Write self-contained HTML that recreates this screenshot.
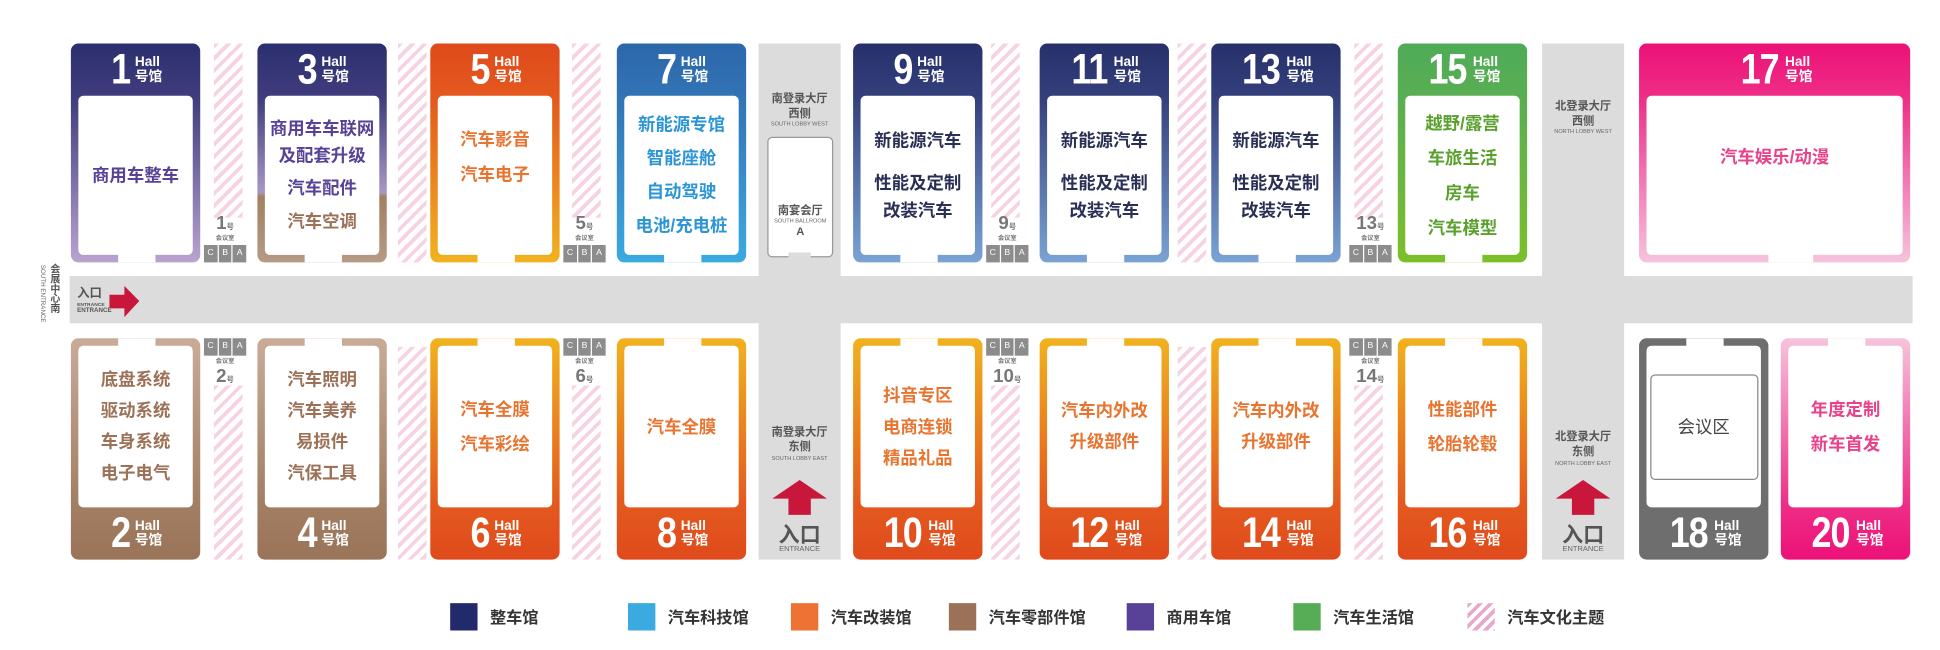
<!DOCTYPE html>
<html><head><meta charset="utf-8"><style>
*{margin:0;padding:0;box-sizing:border-box}
body{width:1940px;height:650px;background:#fff;overflow:hidden;font-family:"Liberation Sans","Noto Sans CJK SC",sans-serif}
#w{position:absolute;left:0;top:0;width:1560px;height:523px;transform:scale(1.24359);transform-origin:0 0}
.a{position:absolute}
.hall{position:absolute;width:104px;border-radius:6px;overflow:hidden}
.top{top:35px;height:176px}
.bot{top:272px;height:178px}
.in{position:absolute;left:6px;right:6px;background:#fff;border-radius:4px;display:flex;flex-direction:column;justify-content:center;align-items:center;font-size:14px;font-weight:bold;line-height:25px;text-align:center}
.top .in{top:42px;bottom:6px}
.bot .in{top:6px;bottom:42px}
.gap{position:absolute;left:38px;width:30px;height:7px;background:#fff}
.top .gap{bottom:0}.bot .gap{top:0}
.hd{position:absolute;left:0;right:0;height:42px;display:flex;justify-content:center;align-items:center;color:#fff}
.top .hd{top:0}.bot .hd{bottom:0}
.n{font-family:"Liberation Sans Narrow","Liberation Sans",sans-serif;font-size:34px;font-weight:bold;letter-spacing:-1px;margin-right:3px;transform:scaleX(.85)}
.s{font-size:11px;font-weight:bold;line-height:12px;display:flex;flex-direction:column}
.hat{position:absolute;width:23px;background:repeating-linear-gradient(135deg,#f6d2e2 0 3px,#fff 3px 7px)}
.cba{position:absolute;width:34px;height:14px;display:flex;gap:1px}
.cba span{flex:1;background:#8c8c8c;color:#fff;font-size:7px;text-align:center;line-height:14px}
.mr{position:absolute;width:34px;text-align:center;color:#777;font-weight:bold}
.mr b{font-size:15px;font-family:"Liberation Sans Narrow","Liberation Sans",sans-serif}
.mr i{font-style:normal;font-size:6px}
.mr div{font-size:5px;line-height:6px}
.lob{position:absolute;background:#dcdcdc;width:66px;top:35px;height:415px;text-align:center;color:#555}
.lt{font-size:9px;font-weight:bold;line-height:12px}
.le{font-size:4.5px;color:#666}
.lg{position:absolute;top:485px;width:22px;height:22px}
.ll{position:absolute;top:486px;font-size:13px;color:#333;font-weight:bold}
.nv{color:#2a2f55;line-height:22px}
</style></head><body><div id="w">

<div class="a" style="left:56px;top:222px;width:1482px;height:38px;background:#dcdcdc"></div>
<div class="a" style="left:40px;top:212px;writing-mode:vertical-rl;font-size:8px;font-weight:bold;color:#555;line-height:9px">会展中心南</div>
<div class="a" style="left:31px;top:213px;writing-mode:vertical-rl;font-size:5px;color:#666;line-height:6px">SOUTH ENTRANCE</div>
<div class="a" style="left:62px;top:232px;font-size:10px;font-weight:bold;color:#555;line-height:10px">入口<div style="font-size:4px;line-height:5px">ENTRANCE</div><div style="font-size:5px;line-height:6px">ENTRANCE</div></div>
<svg class="a" style="left:86px;top:229px" width="28" height="28"><polygon points="2,8 14,8 14,1 26,13 14,26 14,19 2,19" fill="#c8173a"/></svg>

<div class="lob" style="left:610px">
 <div class="lt" style="margin-top:38px">南登录大厅<br>西侧</div><div class="le">SOUTH LOBBY WEST</div>
 <div class="a" style="left:7px;top:75px;width:53px;height:97px;border:1.5px solid #999;border-radius:4px;background:#fff"><div class="lt" style="margin-top:52px">南宴会厅</div><div class="le">SOUTH BALLROOM</div><div class="lt">A</div></div>
 <div class="a" style="left:24px;top:168px;width:18px;height:6px;background:#dcdcdc"></div>
 <div class="lt" style="position:absolute;top:306px;width:66px">南登录大厅<br>东侧</div><div class="le" style="position:absolute;top:331px;width:66px">SOUTH LOBBY EAST</div>
 <svg class="a" style="left:10px;top:350px" width="46" height="30"><polygon points="23,1 45,16 32,16 32,29 14,29 14,16 1,16" fill="#c8173a"/></svg>
 <div style="position:absolute;top:381px;width:66px;font-size:17px;font-weight:bold;color:#555">入口</div><div class="le" style="position:absolute;top:404px;width:66px;font-size:6px">ENTRANCE</div>
</div>
<div class="lob" style="left:1240px">
 <div class="lt" style="margin-top:44px">北登录大厅<br>西侧</div><div class="le">NORTH LOBBY WEST</div>
 <div class="lt" style="position:absolute;top:310px;width:66px">北登录大厅<br>东侧</div><div class="le" style="position:absolute;top:335px;width:66px">NORTH LOBBY EAST</div>
 <svg class="a" style="left:10px;top:350px" width="46" height="30"><polygon points="23,1 45,16 32,16 32,29 14,29 14,16 1,16" fill="#c8173a"/></svg>
 <div style="position:absolute;top:381px;width:66px;font-size:17px;font-weight:bold;color:#555">入口</div><div class="le" style="position:absolute;top:404px;width:66px;font-size:6px">ENTRANCE</div>
</div>

<div class="hat" style="left:172px;top:35px;height:140px"></div>
<div class="hat" style="left:320px;top:35px;height:176px"></div>
<div class="hat" style="left:460px;top:35px;height:140px"></div>
<div class="hat" style="left:797px;top:35px;height:140px"></div>
<div class="hat" style="left:947px;top:35px;height:176px"></div>
<div class="hat" style="left:1089px;top:35px;height:140px"></div>
<div class="hat" style="left:172px;top:310px;height:140px"></div>
<div class="hat" style="left:320px;top:279px;height:171px"></div>
<div class="hat" style="left:460px;top:310px;height:140px"></div>
<div class="hat" style="left:797px;top:310px;height:140px"></div>
<div class="hat" style="left:947px;top:279px;height:171px"></div>
<div class="hat" style="left:1089px;top:310px;height:140px"></div>

<div class="mr" style="left:164px;top:171px"><b>1</b><i>号</i><div>会议室</div></div>
<div class="cba" style="left:164px;top:197px"><span>C</span><span>B</span><span>A</span></div>
<div class="mr" style="left:453px;top:171px"><b>5</b><i>号</i><div>会议室</div></div>
<div class="cba" style="left:453px;top:197px"><span>C</span><span>B</span><span>A</span></div>
<div class="mr" style="left:793px;top:171px"><b>9</b><i>号</i><div>会议室</div></div>
<div class="cba" style="left:793px;top:197px"><span>C</span><span>B</span><span>A</span></div>
<div class="mr" style="left:1085px;top:171px"><b>13</b><i>号</i><div>会议室</div></div>
<div class="cba" style="left:1085px;top:197px"><span>C</span><span>B</span><span>A</span></div>
<div class="cba" style="left:164px;top:272px"><span>C</span><span>B</span><span>A</span></div>
<div class="mr" style="left:164px;top:288px"><div>会议室</div><b>2</b><i>号</i></div>
<div class="cba" style="left:453px;top:272px"><span>C</span><span>B</span><span>A</span></div>
<div class="mr" style="left:453px;top:288px"><div>会议室</div><b>6</b><i>号</i></div>
<div class="cba" style="left:793px;top:272px"><span>C</span><span>B</span><span>A</span></div>
<div class="mr" style="left:793px;top:288px"><div>会议室</div><b>10</b><i>号</i></div>
<div class="cba" style="left:1085px;top:272px"><span>C</span><span>B</span><span>A</span></div>
<div class="mr" style="left:1085px;top:288px"><div>会议室</div><b>14</b><i>号</i></div>

<div class="hall top" style="left:57px;background:linear-gradient(180deg,#2b2f6e 0,#403d7e 25%,#b9a3cf 100%)"><div class="hd"><span class="n">1</span><span class="s"><span>Hall</span><span>号馆</span></span></div><div class="in" style="color:#574297">商用车整车</div><div class="gap"></div></div>
<div class="hall top" style="left:207px;background:linear-gradient(180deg,#2b2f6e 0,#403d7e 25%,#a896c6 68%,#a3805f 70%,#b59a87 100%)"><div class="hd"><span class="n">3</span><span class="s"><span>Hall</span><span>号馆</span></span></div><div class="in" style="color:#574297"><div style="line-height:22px">商用车车联网<br>及配套升级</div><div style="line-height:30px">汽车配件</div><div style="color:#9b7157">汽车空调</div></div><div class="gap"></div></div>
<div class="hall top" style="left:346px;background:linear-gradient(180deg,#df4a1c 0,#e4591e 25%,#f1b21f 100%)"><div class="hd"><span class="n">5</span><span class="s"><span>Hall</span><span>号馆</span></span></div><div class="in" style="color:#e8742f;line-height:28px;padding-bottom:30px">汽车影音<br>汽车电子</div><div class="gap"></div></div>
<div class="hall top" style="left:496px;background:linear-gradient(180deg,#2c67ab 0,#3274b6 25%,#3aaae0 100%)"><div class="hd"><span class="n">7</span><span class="s"><span>Hall</span><span>号馆</span></span></div><div class="in" style="color:#2b95d6;line-height:27px">新能源专馆<br>智能座舱<br>自动驾驶<br>电池/充电桩</div><div class="gap"></div></div>
<div class="hall top" style="left:686px;background:linear-gradient(180deg,#27306b 0,#34407c 25%,#7aa3d4 100%)"><div class="hd"><span class="n">9</span><span class="s"><span>Hall</span><span>号馆</span></span></div><div class="in nv"><div style="margin-bottom:12px">新能源汽车</div><div>性能及定制</div><div>改装汽车</div></div><div class="gap"></div></div>
<div class="hall top" style="left:836px;background:linear-gradient(180deg,#27306b 0,#34407c 25%,#7aa3d4 100%)"><div class="hd"><span class="n">11</span><span class="s"><span>Hall</span><span>号馆</span></span></div><div class="in nv"><div style="margin-bottom:12px">新能源汽车</div><div>性能及定制</div><div>改装汽车</div></div><div class="gap"></div></div>
<div class="hall top" style="left:974px;background:linear-gradient(180deg,#27306b 0,#34407c 25%,#7aa3d4 100%)"><div class="hd"><span class="n">13</span><span class="s"><span>Hall</span><span>号馆</span></span></div><div class="in nv"><div style="margin-bottom:12px">新能源汽车</div><div>性能及定制</div><div>改装汽车</div></div><div class="gap"></div></div>
<div class="hall top" style="left:1124px;background:linear-gradient(180deg,#4fab58 0,#5aae52 25%,#7cbf2b 100%)"><div class="hd"><span class="n">15</span><span class="s"><span>Hall</span><span>号馆</span></span></div><div class="in" style="color:#5aa02c;line-height:28px">越野/露营<br>车旅生活<br>房车<br>汽车模型</div><div class="gap"></div></div>
<div class="hall top" style="left:1318px;width:218px;background:linear-gradient(180deg,#ec1177 0,#ee2e87 25%,#f6c3dc 100%)"><div class="hd"><span class="n">17</span><span class="s"><span>Hall</span><span>号馆</span></span></div><div class="in" style="color:#e8428a;padding-bottom:30px">汽车娱乐/动漫</div><div class="gap" style="left:104px;width:36px"></div></div>

<div class="hall bot" style="left:57px;background:linear-gradient(0deg,#9a7458 0,#a27e62 25%,#c9ab98 100%)"><div class="in" style="color:#9b7157">底盘系统<br>驱动系统<br>车身系统<br>电子电气</div><div class="hd"><span class="n">2</span><span class="s"><span>Hall</span><span>号馆</span></span></div><div class="gap"></div></div>
<div class="hall bot" style="left:207px;background:linear-gradient(0deg,#9a7458 0,#a27e62 25%,#c9ab98 100%)"><div class="in" style="color:#9b7157">汽车照明<br>汽车美养<br>易损件<br>汽保工具</div><div class="hd"><span class="n">4</span><span class="s"><span>Hall</span><span>号馆</span></span></div><div class="gap"></div></div>
<div class="hall bot" style="left:346px;background:linear-gradient(0deg,#df4a1c 0,#e4591e 25%,#f1b21f 100%)"><div class="in" style="color:#e8742f;line-height:28px">汽车全膜<br>汽车彩绘</div><div class="hd"><span class="n">6</span><span class="s"><span>Hall</span><span>号馆</span></span></div><div class="gap"></div></div>
<div class="hall bot" style="left:496px;background:linear-gradient(0deg,#df4a1c 0,#e4591e 25%,#f1b21f 100%)"><div class="in" style="color:#e8742f">汽车全膜</div><div class="hd"><span class="n">8</span><span class="s"><span>Hall</span><span>号馆</span></span></div><div class="gap"></div></div>
<div class="hall bot" style="left:686px;background:linear-gradient(0deg,#df4a1c 0,#e4591e 25%,#f1b21f 100%)"><div class="in" style="color:#e8742f">抖音专区<br>电商连锁<br>精品礼品</div><div class="hd"><span class="n">10</span><span class="s"><span>Hall</span><span>号馆</span></span></div><div class="gap"></div></div>
<div class="hall bot" style="left:836px;background:linear-gradient(0deg,#df4a1c 0,#e4591e 25%,#f1b21f 100%)"><div class="in" style="color:#e8742f">汽车内外改<br>升级部件</div><div class="hd"><span class="n">12</span><span class="s"><span>Hall</span><span>号馆</span></span></div><div class="gap"></div></div>
<div class="hall bot" style="left:974px;background:linear-gradient(0deg,#df4a1c 0,#e4591e 25%,#f1b21f 100%)"><div class="in" style="color:#e8742f">汽车内外改<br>升级部件</div><div class="hd"><span class="n">14</span><span class="s"><span>Hall</span><span>号馆</span></span></div><div class="gap"></div></div>
<div class="hall bot" style="left:1124px;background:linear-gradient(0deg,#df4a1c 0,#e4591e 25%,#f1b21f 100%)"><div class="in" style="color:#e8742f;line-height:28px">性能部件<br>轮胎轮毂</div><div class="hd"><span class="n">16</span><span class="s"><span>Hall</span><span>号馆</span></span></div><div class="gap"></div></div>
<div class="hall bot" style="left:1318px;background:#6e6e6e"><div class="in"><div style="width:87px;height:85px;border:1px solid #888;border-radius:4px;display:flex;align-items:center;justify-content:center;color:#444;font-weight:normal;font-size:14px">会议区</div></div><div class="hd"><span class="n">18</span><span class="s"><span>Hall</span><span>号馆</span></span></div><div class="gap"></div></div>
<div class="hall bot" style="left:1432px;background:linear-gradient(0deg,#ec1177 0,#ee2e87 25%,#f6c3dc 100%)"><div class="in" style="color:#e8428a;line-height:28px">年度定制<br>新车首发</div><div class="hd"><span class="n">20</span><span class="s"><span>Hall</span><span>号馆</span></span></div><div class="gap"></div></div>

<div class="lg" style="left:362px;background:#232a6b"></div><div class="ll" style="left:394px">整车馆</div>
<div class="lg" style="left:505px;background:#3aaae0"></div><div class="ll" style="left:537px">汽车科技馆</div>
<div class="lg" style="left:636px;background:#ee7234"></div><div class="ll" style="left:668px">汽车改装馆</div>
<div class="lg" style="left:763px;background:#9b7157"></div><div class="ll" style="left:795px">汽车零部件馆</div>
<div class="lg" style="left:906px;background:#574297"></div><div class="ll" style="left:938px">商用车馆</div>
<div class="lg" style="left:1040px;background:#56ad56"></div><div class="ll" style="left:1072px">汽车生活馆</div>
<div class="lg" style="left:1180px;background:repeating-linear-gradient(135deg,#e4a9cb 0 3px,#fff 3px 6px)"></div><div class="ll" style="left:1212px">汽车文化主题</div>

</div></body></html>
